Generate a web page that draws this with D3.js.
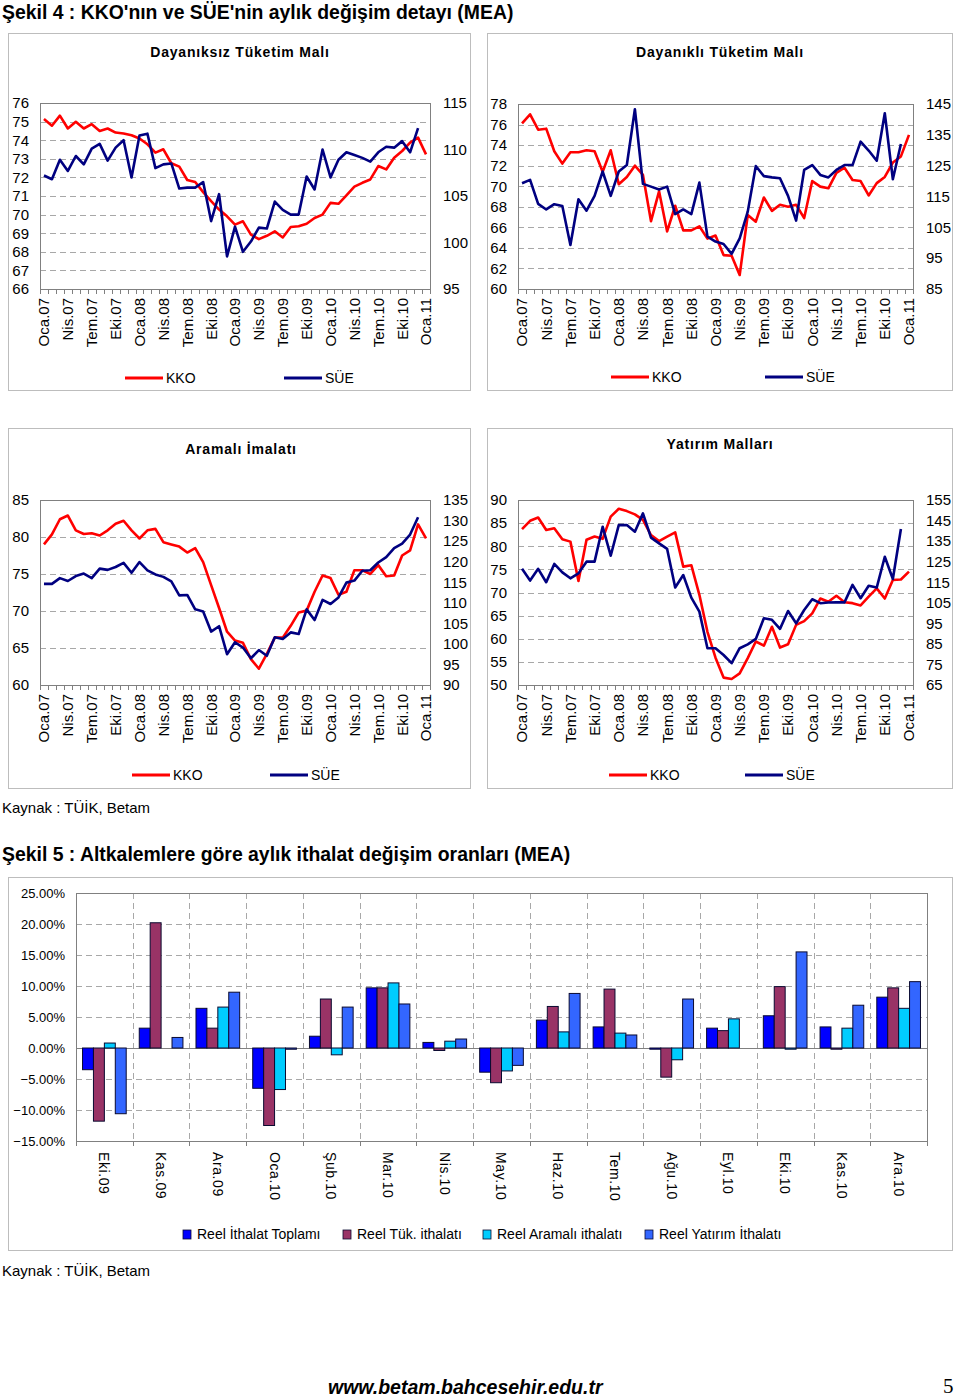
<!DOCTYPE html>
<html><head><meta charset="utf-8">
<script src="https://cdn.jsdelivr.net/npm/d3@7"></script>
<style>
body{margin:0;background:#fff}
text{font-family:"Liberation Sans",Arial,sans-serif;fill:#000}
</style>
</head><body>
<svg id="c" width="960" height="1399"></svg>
<script>
// ---------- DATA ----------
const months = [
 "Oca.07","Şub.07","Mar.07","Nis.07","May.07","Haz.07","Tem.07","Ağu.07","Eyl.07","Eki.07","Kas.07","Ara.07",
 "Oca.08","Şub.08","Mar.08","Nis.08","May.08","Haz.08","Tem.08","Ağu.08","Eyl.08","Eki.08","Kas.08","Ara.08",
 "Oca.09","Şub.09","Mar.09","Nis.09","May.09","Haz.09","Tem.09","Ağu.09","Eyl.09","Eki.09","Kas.09","Ara.09",
 "Oca.10","Şub.10","Mar.10","Nis.10","May.10","Haz.10","Tem.10","Ağu.10","Eyl.10","Eki.10","Kas.10","Ara.10",
 "Oca.11"];
const monthTickLabels = ["Oca.07","Nis.07","Tem.07","Eki.07","Oca.08","Nis.08","Tem.08","Eki.08","Oca.09","Nis.09","Tem.09","Eki.09","Oca.10","Nis.10","Tem.10","Eki.10","Oca.11"];

const dayaniksizKKO = [75.14,74.78,75.32,74.63,74.99,74.63,74.86,74.5,74.63,74.41,74.36,74.27,74.09,73.78,73.33,73.51,72.76,72.58,71.86,71.75,71.21,70.72,70.27,69.91,69.46,69.64,68.92,68.68,68.86,69.1,68.77,69.33,69.37,69.51,69.82,70.0,70.63,70.58,71.03,71.5,71.71,71.89,72.61,72.43,73.06,73.42,73.87,74.14,73.24];
const dayaniksizSUE = [107.2,106.8,108.9,107.7,109.3,108.4,110.1,110.6,108.8,110.2,111.0,107.0,111.5,111.7,108.0,108.4,108.5,105.8,105.9,105.9,106.5,102.3,105.2,98.5,101.7,99.0,100.1,101.6,101.5,104.4,103.5,103.0,103.0,107.1,105.7,110.0,107.0,108.9,109.7,109.4,109.1,108.7,109.7,110.3,110.2,110.9,109.7,112.3];

const dayanikliKKO = [76.12,77.0,75.5,75.6,73.4,72.2,73.3,73.3,73.5,73.4,71.4,73.5,70.2,70.9,72.0,71.1,66.6,69.5,65.6,68.1,65.7,65.7,66.1,64.9,65.2,63.3,63.24,61.36,67.2,66.55,68.9,67.6,68.2,68.0,68.2,66.9,70.5,69.96,69.8,71.3,71.8,70.6,70.5,69.1,70.3,70.9,72.3,72.9,75.0];
const dayanikliSUE = [119.3,120.4,112.6,110.8,112.5,111.9,99.3,114.1,110.4,115.2,123.1,115.2,123.1,125.2,143.3,119.1,118.2,117.3,118.2,109.3,110.8,109.3,119.5,102.0,100.4,99.6,96.4,101.4,110.1,124.9,121.6,121.2,120.9,115.2,107.2,123.6,125.2,122.0,121.2,123.6,125.2,125.2,132.8,129.9,126.6,142.0,120.6,132.0];

const aramaliKKO = [79.0,80.36,82.4,82.9,80.9,80.4,80.5,80.2,80.9,81.8,82.2,80.9,79.8,80.9,81.1,79.3,79.0,78.7,77.9,78.5,76.6,73.5,70.4,67.2,66.0,65.7,63.5,62.2,64.2,66.4,66.4,68.0,69.8,70.05,72.6,74.8,74.45,72.2,72.6,75.5,75.5,75.0,76.2,74.7,74.8,77.5,78.2,81.7,79.8];
const aramaliSUE = [114.6,114.6,116.0,115.3,116.5,117.1,116.0,118.3,118.0,118.7,119.7,117.3,119.9,117.9,116.9,116.3,115.2,111.8,111.9,108.4,107.9,103.0,104.3,97.5,100.4,99.1,96.5,98.5,97.1,101.6,101.2,102.8,102.4,108.4,105.8,110.7,109.7,111.3,114.9,115.4,117.8,117.9,119.8,121.1,123.3,124.4,126.6,130.8];

const yatirimKKO = [83.7,85.5,86.2,83.5,83.9,81.5,81.0,72.5,81.4,82.1,81.6,86.4,88.1,87.6,86.9,85.7,82.4,81.1,82.1,83.0,75.6,75.9,69.5,61.5,55.9,51.6,51.3,52.5,55.8,59.4,58.5,62.6,58.1,58.8,63.0,63.8,65.5,68.7,68.0,69.3,67.9,67.7,67.2,69.1,70.9,68.7,72.7,72.8,74.5];
const yatirimSUE = [121.5,115.8,121.5,115.0,123.9,119.8,116.9,119.3,125.0,125.0,142.0,127.9,142.8,142.8,139.6,148.5,136.7,133.9,131.2,112.4,118.5,107.5,100.7,82.9,82.9,79.6,75.6,82.9,84.8,87.4,97.5,96.7,92.3,101.0,95.0,101.5,106.7,104.8,105.1,105.2,105.2,113.7,107.2,113.3,112.4,127.4,116.6,140.9];

const barCategories = ["Eki.09","Kas.09","Ara.09","Oca.10","Şub.10","Mar.10","Nis.10","May.10","Haz.10","Tem.10","Ağu.10","Eyl.10","Eki.10","Kas.10","Ara.10"];
const barSeriesNames = ["Reel İthalat Toplamı","Reel Tük. ithalatı","Reel Aramalı ithalatı","Reel Yatırım İthalatı"];
const ithalatToplam = [-3.5,3.2,6.4,-6.5,1.9,9.7,0.9,-3.9,4.5,3.4,-0.15,3.2,5.2,3.4,8.2];
const ithalatTuk    = [-11.8,20.2,3.2,-12.5,7.9,9.7,-0.4,-5.6,6.7,9.5,-4.7,2.8,9.9,-0.15,9.7];
const ithalatAramali= [0.8,0,6.6,-6.7,-1.1,10.5,1.1,-3.7,2.6,2.4,-1.9,4.7,-0.15,3.2,6.4];
const ithalatYatirim= [-10.6,1.7,9.0,-0.2,6.6,7.1,1.45,-2.8,8.8,2.1,7.9,0,15.5,6.9,10.7];
const barTicks = [25,20,15,10,5,0,-5,-10,-15];

// ---------- DRAW ----------
const svg = d3.select("#c");
const RED = "#FF0000", NAVY = "#000080", BOXC = "#BDBDBD", AXC = "#808080", GRIDC = "#A8A8A8";

svg.append("text").attr("x",2).attr("y",19).attr("font-size",19.4).attr("font-weight","bold")
  .text("Şekil 4 : KKO'nın ve SÜE'nin aylık değişim detayı (MEA)");

function linePanel(o){
  const g = svg.append("g");
  g.append("rect").attr("x",o.box[0]+0.5).attr("y",o.box[1]+0.5).attr("width",o.box[2]).attr("height",o.box[3])
    .attr("fill","none").attr("stroke",BOXC);
  g.append("text").attr("x",o.titleX).attr("y",o.titleY).attr("text-anchor","middle")
    .attr("font-size",14).attr("font-weight","bold").attr("letter-spacing",0.8).text(o.title);

  const x = d3.scaleBand().domain(months).range([o.l,o.r]);
  const yL = d3.scaleLinear().domain(o.ld).range([o.b,o.t]);
  const yR = d3.scaleLinear().domain(o.rd).range([o.b,o.t]);

  g.selectAll(null).data(o.lt.slice(1,-1)).enter().append("line")
    .attr("x1",o.l).attr("x2",o.r).attr("y1",d=>Math.round(yL(d))+0.5).attr("y2",d=>Math.round(yL(d))+0.5)
    .attr("stroke",GRIDC).attr("stroke-dasharray","6,4");
  g.append("rect").attr("x",o.l+0.5).attr("y",o.t+0.5).attr("width",o.r-o.l).attr("height",o.b-o.t)
    .attr("fill","none").attr("stroke",AXC);
  const bounds = months.map(m=>x(m)).concat([o.r]);
  g.selectAll(null).data(bounds).enter().append("line")
    .attr("x1",d=>Math.round(d)+0.5).attr("x2",d=>Math.round(d)+0.5).attr("y1",o.b).attr("y2",o.b+5)
    .attr("stroke",AXC);

  const la = g.append("g").attr("transform",`translate(${o.l},0)`)
    .call(d3.axisLeft(yL).tickValues(o.lt).tickSize(0).tickPadding(11).tickFormat(d3.format("d")));
  la.select(".domain").remove();
  la.selectAll("text").attr("font-size",15).attr("font-family","Liberation Sans, Arial");
  const ra = g.append("g").attr("transform",`translate(${o.r},0)`)
    .call(d3.axisRight(yR).tickValues(o.rt).tickSize(0).tickPadding(13).tickFormat(d3.format("d")));
  ra.select(".domain").remove();
  ra.selectAll("text").attr("font-size",15).attr("font-family","Liberation Sans, Arial");
  const ba = g.append("g").attr("transform",`translate(0,${o.b})`)
    .call(d3.axisBottom(x).tickValues(monthTickLabels).tickSize(0));
  ba.select(".domain").remove();
  ba.selectAll("text").attr("font-size",15).attr("font-family","Liberation Sans, Arial")
    .attr("text-anchor","end").attr("transform","rotate(-90)")
    .attr("x",-9).attr("y",0).attr("dy","0.36em");

  const cx = (d,i)=>x(months[i])+x.bandwidth()/2;
  const lineL = d3.line().x(cx).y(d=>yL(d));
  const lineR = d3.line().x(cx).y(d=>yR(d));
  g.append("path").datum(o.kko).attr("d",lineL).attr("fill","none").attr("stroke",RED).attr("stroke-width",2.6).attr("stroke-linejoin","round");
  g.append("path").datum(o.sue).attr("d",lineR).attr("fill","none").attr("stroke",NAVY).attr("stroke-width",2.6).attr("stroke-linejoin","round");

  const items = [["KKO",RED,o.leg[0]],["SÜE",NAVY,o.leg[1]]];
  items.forEach(([t,c,lx])=>{
    g.append("line").attr("x1",lx).attr("x2",lx+38).attr("y1",o.legY).attr("y2",o.legY).attr("stroke",c).attr("stroke-width",3);
    g.append("text").attr("x",lx+41).attr("y",o.legY+5).attr("font-size",14).text(t);
  });
}

linePanel({box:[8,33,462,357],title:"Dayanıksız Tüketim Malı",titleX:240,titleY:57,
  l:40,r:430,t:103,b:289,ld:[66,76],lt:d3.range(66,77,1),rd:[95,115],rt:[95,100,105,110,115],
  kko:dayaniksizKKO,sue:dayaniksizSUE,leg:[125,284],legY:378});
linePanel({box:[487,33,465,357],title:"Dayanıklı Tüketim Malı",titleX:720,titleY:57,
  l:518,r:913,t:104,b:289,ld:[60,78],lt:d3.range(60,79,2),rd:[85,145],rt:[85,95,105,115,125,135,145],
  kko:dayanikliKKO,sue:dayanikliSUE,leg:[611,765],legY:377});
linePanel({box:[8,428,462,360],title:"Aramalı İmalatı",titleX:241,titleY:454,
  l:40,r:430,t:500,b:685,ld:[60,85],lt:[60,65,70,75,80,85],rd:[90,135],rt:d3.range(90,136,5),
  kko:aramaliKKO,sue:aramaliSUE,leg:[132,270],legY:775});
linePanel({box:[487,428,465,360],title:"Yatırım Malları",titleX:720,titleY:449,
  l:518,r:913,t:500,b:685,ld:[50,90],lt:d3.range(50,91,5),rd:[65,155],rt:d3.range(65,156,10),
  kko:yatirimKKO,sue:yatirimSUE,leg:[609,745],legY:775});

svg.append("text").attr("x",2).attr("y",813).attr("font-size",15).text("Kaynak : TÜİK, Betam");

// ---------- BAR CHART ----------
svg.append("text").attr("x",2).attr("y",861).attr("font-size",19.4).attr("font-weight","bold")
  .text("Şekil 5 : Altkalemlere göre aylık ithalat değişim oranları (MEA)");
{
  const g = svg.append("g");
  g.append("rect").attr("x",8.5).attr("y",877.5).attr("width",944).attr("height",373).attr("fill","none").attr("stroke",BOXC);
  const L=76,R=927,T=893,B=1141;
  const x0 = d3.scaleBand().domain(barCategories).range([L,R]);
  const bw = x0.bandwidth();
  const x1 = d3.scaleBand().domain(barSeriesNames).range([bw*0.115,bw*0.885]);
  const y = d3.scaleLinear().domain([-15,25]).range([B,T]);
  const seriesVals = [ithalatToplam,ithalatTuk,ithalatAramali,ithalatYatirim];
  const colors = ["#0000FF","#993366","#00CCFF","#3366FF"];

  g.selectAll(null).data(barTicks.filter(d=>d!==25&&d!==-15&&d!==0)).enter().append("line")
    .attr("x1",L).attr("x2",R).attr("y1",d=>Math.round(y(d))+0.5).attr("y2",d=>Math.round(y(d))+0.5)
    .attr("stroke",GRIDC).attr("stroke-dasharray","6,4");
  g.selectAll(null).data(barCategories.slice(1)).enter().append("line")
    .attr("x1",d=>Math.round(x0(d))+0.5).attr("x2",d=>Math.round(x0(d))+0.5).attr("y1",T).attr("y2",B)
    .attr("stroke",GRIDC).attr("stroke-dasharray","6,4");
  g.append("rect").attr("x",L+0.5).attr("y",T+0.5).attr("width",R-L).attr("height",B-T).attr("fill","none").attr("stroke",AXC);
  g.append("line").attr("x1",L).attr("x2",R).attr("y1",Math.round(y(0))+0.5).attr("y2",Math.round(y(0))+0.5).attr("stroke",AXC);
  g.selectAll(null).data(barCategories.map(c=>x0(c)).concat([R])).enter().append("line")
    .attr("x1",d=>Math.round(d)+0.5).attr("x2",d=>Math.round(d)+0.5).attr("y1",B).attr("y2",B+5).attr("stroke",AXC);

  const ya = g.append("g").attr("transform",`translate(${L},0)`)
    .call(d3.axisLeft(y).tickValues(barTicks).tickSize(0).tickPadding(11).tickFormat(d=>d3.format(".2f")(d)+"%"));
  ya.select(".domain").remove();
  ya.selectAll("text").attr("font-size",13).attr("font-family","Liberation Sans, Arial");

  const xa = g.append("g").attr("transform",`translate(0,${B})`)
    .call(d3.axisBottom(x0).tickSize(0));
  xa.select(".domain").remove();
  xa.selectAll("text").attr("font-size",14).attr("font-family","Liberation Sans, Arial").attr("letter-spacing",0.6)
    .attr("text-anchor","start").attr("transform","rotate(90)").attr("x",11).attr("y",0).attr("dy","0.36em");

  seriesVals.forEach((vals,si)=>{
    const pts = vals.map((v,i)=>({v, cat: barCategories[i]})).filter(p=>p.v!==0);
    g.selectAll(null).data(pts).enter().append("rect")
      .attr("x",p=>x0(p.cat)+x1(barSeriesNames[si]))
      .attr("width",x1.bandwidth())
      .attr("y",p=>y(Math.max(0,p.v)))
      .attr("height",p=>Math.max(1.2,Math.abs(y(p.v)-y(0))))
      .attr("fill",colors[si]).attr("stroke","#0A0A30").attr("stroke-width",1);
  });

  const legX = [183,343,483,645];
  barSeriesNames.forEach((n,i)=>{
    g.append("rect").attr("x",legX[i]).attr("y",1230).attr("width",8).attr("height",9)
      .attr("fill",colors[i]).attr("stroke","#0A0A30").attr("stroke-width",0.8);
    g.append("text").attr("x",legX[i]+14).attr("y",1239).attr("font-size",14)
      .attr("font-family","Liberation Sans Narrow, Liberation Sans, Arial").text(n);
  });
}

svg.append("text").attr("x",2).attr("y",1276).attr("font-size",15).text("Kaynak : TÜİK, Betam");
svg.append("text").attr("x",328).attr("y",1394).attr("font-size",19.5).attr("font-weight","bold").attr("font-style","italic")
  .text("www.betam.bahcesehir.edu.tr");
svg.append("text").attr("x",943).attr("y",1393).attr("font-size",21).style("font-family","Liberation Serif, Times New Roman, serif").text("5");
</script>
</body></html>
